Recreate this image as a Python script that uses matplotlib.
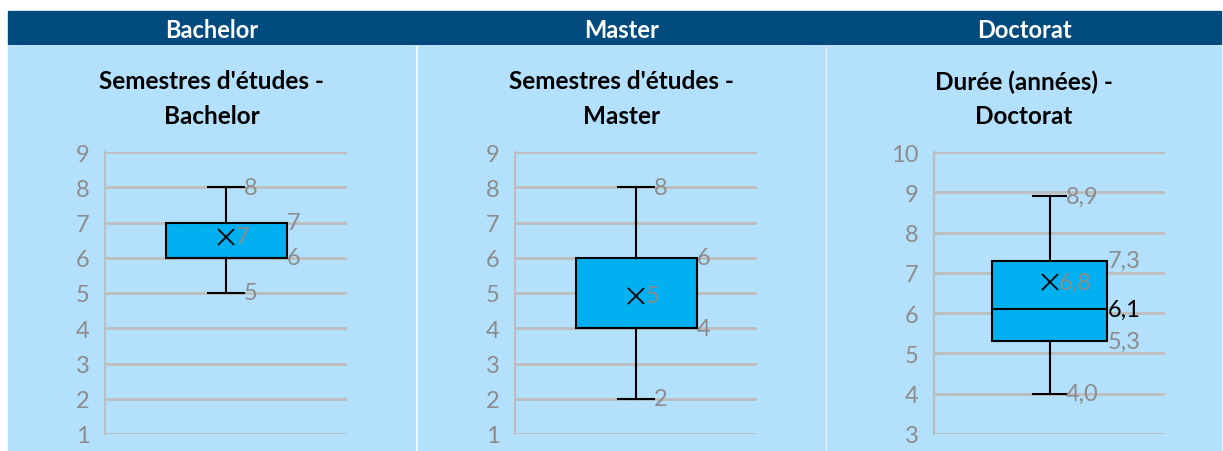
import matplotlib
matplotlib.use("Agg")
import matplotlib.pyplot as plt
from matplotlib.patches import Rectangle

# values
groups = ["Bachelor", "Master", "Doctorat"]
titles = ["Semestres d'études -\nBachelor",
          "Semestres d'études -\nMaster",
          "Durée (années) -\nDoctorat"]
whislo = [5, 2, 4.0]
q1 = [6, 4, 5.3]
med = [6, 4, 6.1]
q3 = [7, 6, 7.3]
whishi = [8, 8, 8.9]
means = [6.6, 4.92, 6.77]
decimals = [0, 0, 1]
y_ranges = [(1, 9), (1, 9), (3, 10)]

HEADER = "#014b7e"
PANEL = "#b3e0fc"
BOX = "#00b0f0"
GREY_TXT = "#8c8c8c"
GRID = "#bdbdbd"

plt.rcParams["font.family"] = ["Lato", "DejaVu Sans"]

W, H = 1223, 452
fig = plt.figure(figsize=(W / 100, H / 100), dpi=100)
fig.patch.set_facecolor("white")

# header band and panel backgrounds (pixel boxes -> figure fractions)
panels_px = [(8, 415), (418, 825), (827, 1221)]
axes_px = [(105, 347), (515, 757), (934, 1165)]
fig.patches.append(Rectangle((8 / W, 1 - 44.5 / H), (1221 - 8) / W, 32.5 / H,
                             transform=fig.transFigure, color=HEADER, zorder=-10))
for (x0, x1) in panels_px:
    fig.patches.append(Rectangle((x0 / W, 0), (x1 - x0) / W, 1 - 47 / H,
                                 transform=fig.transFigure, color=PANEL, zorder=-10))


def fmt(v, d):
    return f"{v:.{d}f}".replace(".", ",")


for i, name in enumerate(groups):
    x0, x1 = panels_px[i]
    cx = (x0 + x1) / 2 / W
    fig.text(cx, 1 - 30 / H, name, color="white", fontsize=17,
             fontweight="bold", ha="center", va="center")
    fig.text(cx, 1 - 99 / H, titles[i], color="black", fontsize=17.5,
             fontweight="bold", ha="center", va="center", linespacing=1.58)

    ax_l, ax_r = axes_px[i]
    ax = fig.add_axes([ax_l / W, 17 / H, (ax_r - ax_l) / W, (435 - 153) / H])
    ax.set_facecolor("none")
    lo, hi = y_ranges[i]
    stats = [dict(whislo=whislo[i], q1=q1[i], med=med[i], q3=q3[i],
                  whishi=whishi[i], mean=means[i])]
    ax.bxp(stats, positions=[0], widths=0.5, capwidths=0.145,
           showmeans=True, showfliers=False, patch_artist=True,
           manage_ticks=False,
           boxprops=dict(facecolor=BOX, edgecolor="black", lw=1.5),
           whiskerprops=dict(color="black", lw=1.5),
           capprops=dict(color="black", lw=1.5),
           medianprops=dict(color="black", lw=1.5),
           meanprops=dict(marker="x", markeredgecolor="black",
                          markersize=11, markeredgewidth=1.3))
    ax.set_ylim(lo, hi)
    ax.set_xlim(-0.5, 0.5)
    ax.set_yticks(range(lo, hi + 1))
    ax.yaxis.grid(True, color=GRID, lw=2)
    ax.set_axisbelow(True)
    ax.set_xticks([])
    for s in ["top", "right", "bottom"]:
        ax.spines[s].set_visible(False)
    ax.spines["left"].set_color(GRID)
    ax.spines["left"].set_linewidth(1.5)
    ax.tick_params(axis="y", length=0, pad=11, labelsize=17,
                   labelcolor=GREY_TXT)

    d = decimals[i]
    lab_kw = dict(fontsize=17, va="center", ha="left")
    ax.text(0.0725, whishi[i], fmt(whishi[i], d), color=GREY_TXT, **lab_kw)
    ax.text(0.0725, whislo[i], fmt(whislo[i], d), color=GREY_TXT, **lab_kw)
    ax.text(0.252, q3[i], fmt(q3[i], d), color=GREY_TXT, **lab_kw)
    ax.text(0.252, q1[i], fmt(q1[i], d), color=GREY_TXT, **lab_kw)
    if med[i] not in (q1[i], q3[i]):
        ax.text(0.252, med[i], fmt(med[i], d), color="black", **lab_kw)
    ax.text(0.04, means[i], fmt(means[i], d), color=GREY_TXT, **lab_kw)

fig.savefig("out.png", dpi=100, facecolor="white")
